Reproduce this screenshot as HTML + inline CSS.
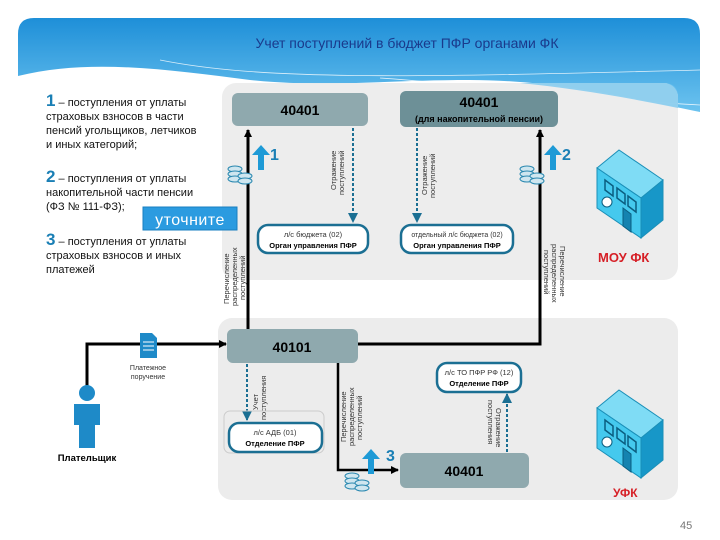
<!DOCTYPE html>
<html><head><meta charset="utf-8"><style>
html,body{margin:0;padding:0;background:#fff;}
svg{display:block;font-family:"Liberation Sans",sans-serif;}
</style></head><body>
<svg width="720" height="540" viewBox="0 0 720 540" xmlns="http://www.w3.org/2000/svg">
<defs>
<linearGradient id="hb" x1="0" y1="0" x2="0" y2="1"><stop offset="0" stop-color="#1e8fd8"/><stop offset="1" stop-color="#6cc3ef"/></linearGradient>
<marker id="ab" markerWidth="8" markerHeight="8" refX="7" refY="4" orient="auto" markerUnits="userSpaceOnUse"><path d="M0,0 L8,4 L0,8 Z" fill="#000"/></marker>
<marker id="at" markerWidth="10" markerHeight="10" refX="9" refY="5" orient="auto" markerUnits="userSpaceOnUse"><path d="M0,0 L10,5 L0,10 Z" fill="#1b6f93"/></marker>
<g id="coin"><ellipse cx="6" cy="3" rx="7" ry="3" fill="#cfe6ef" stroke="#2a88b0" stroke-width="1"/><ellipse cx="6" cy="8" rx="7" ry="3" fill="#cfe6ef" stroke="#2a88b0" stroke-width="1"/><ellipse cx="6" cy="13" rx="7" ry="3" fill="#cfe6ef" stroke="#2a88b0" stroke-width="1"/><ellipse cx="16" cy="10" rx="7" ry="3" fill="#cfe6ef" stroke="#2a88b0" stroke-width="1"/><ellipse cx="16" cy="15" rx="7" ry="3" fill="#cfe6ef" stroke="#2a88b0" stroke-width="1"/></g>
<g id="up"><path d="M0,10 L9,0 L18,10 L12,10 L12,25 L6,25 L6,10 Z" fill="#1e9ad6"/></g>
<g id="srv">
<path d="M0,18 L22,0 L66,30 L44,48 Z" fill="#7fdcf5" stroke="#1a8fb8"/>
<path d="M0,18 L44,48 L44,88 L0,58 Z" fill="#45c9ee" stroke="#1a8fb8"/>
<path d="M44,48 L66,30 L66,70 L44,88 Z" fill="#1797c8" stroke="#1a8fb8"/>
<path d="M8,30 L16,36 L16,46 L8,40Z M20,38 L28,44 L28,54 L20,48Z M31,46 L39,52 L39,62 L31,56Z" fill="none" stroke="#0b5e80" stroke-width="1.5"/>
<circle cx="10" cy="52" r="5" fill="#fff" stroke="#0b5e80"/>
<path d="M26,58 L34,64 L34,82 L26,76Z" fill="#1583b0" stroke="#0b5e80"/>
</g>
</defs>

<!-- header -->
<path d="M18,34 Q18,18 34,18 H684 Q700,18 700,34 V112 C640,100 560,80 470,80 C380,80 330,88 250,80 C170,70 90,58 18,76 Z" fill="url(#hb)"/>
<path d="M160,60 C260,80 400,78 700,70" fill="none" stroke="#fff" stroke-width="0.8" opacity="0.8"/>
<path d="M380,78 C480,85 600,100 700,105" fill="none" stroke="#fff" stroke-width="0.8" opacity="0.8"/>
<text x="407" y="48" text-anchor="middle" font-size="14" fill="#1a3a8c">Учет поступлений в бюджет ПФР органами ФК</text>

<!-- panels -->
<rect x="222" y="83" width="456" height="197" rx="14" fill="#ececec" opacity="0.95"/>
<path d="M520,83 H664 Q678,83 678,97 V108 C620,96 570,88 520,83Z" fill="#6cc3ef" opacity="0.7"/>
<rect x="218" y="318" width="460" height="182" rx="14" fill="#ececec"/>

<!-- left text -->
<g font-size="11" fill="#111">
<text x="46" y="106"><tspan font-size="17" fill="#1a7fb5" font-weight="bold">1</tspan> – поступления от уплаты</text>
<text x="46" y="120">страховых взносов в части</text>
<text x="46" y="134">пенсий угольщиков, летчиков</text>
<text x="46" y="148">и иных категорий;</text>
<text x="46" y="182"><tspan font-size="17" fill="#1a7fb5" font-weight="bold">2</tspan> – поступления от уплаты</text>
<text x="46" y="196">накопительной части пенсии</text>
<text x="46" y="210">(ФЗ № 111-ФЗ);</text>
<text x="46" y="245"><tspan font-size="17" fill="#1a7fb5" font-weight="bold">3</tspan> – поступления от уплаты</text>
<text x="46" y="259">страховых взносов и иных</text>
<text x="46" y="273">платежей</text>
</g>

<!-- upper boxes -->
<rect x="232" y="93" width="136" height="33" rx="6" fill="#8fa9ae"/>
<text x="300" y="115" text-anchor="middle" font-size="14" font-weight="bold">40401</text>
<rect x="400" y="91" width="158" height="36" rx="6" fill="#6d9097"/>
<text x="479" y="107" text-anchor="middle" font-size="14" font-weight="bold">40401</text>
<text x="479" y="122" text-anchor="middle" font-size="9" font-weight="bold">(для накопительной пенсии)</text>

<!-- dashed -->
<line x1="353" y1="128" x2="353" y2="222" stroke="#1b6f93" stroke-width="2" stroke-dasharray="3,2" marker-end="url(#at)"/>
<line x1="417" y1="128" x2="417" y2="222" stroke="#1b6f93" stroke-width="2" stroke-dasharray="3,2" marker-end="url(#at)"/>
<text transform="translate(336,190) rotate(-90)" font-size="7.5" fill="#333">Отражение</text>
<text transform="translate(344,195) rotate(-90)" font-size="7.5" fill="#333">поступлений</text>
<text transform="translate(427,195) rotate(-90)" font-size="7.5" fill="#333">Отражение</text>
<text transform="translate(435,198) rotate(-90)" font-size="7.5" fill="#333">поступлений</text>

<rect x="258" y="225" width="110" height="28" rx="10" fill="#fff" stroke="#1b6f93" stroke-width="2.5"/>
<text x="313" y="237" text-anchor="middle" font-size="7.5" fill="#333">л/с бюджета (02)</text>
<text x="313" y="248" text-anchor="middle" font-size="7.5" font-weight="bold">Орган управления ПФР</text>
<rect x="401" y="225" width="112" height="28" rx="10" fill="#fff" stroke="#1b6f93" stroke-width="2.5"/>
<text x="457" y="237" text-anchor="middle" font-size="7" fill="#333">отдельный л/с бюджета (02)</text>
<text x="457" y="248" text-anchor="middle" font-size="7.5" font-weight="bold">Орган управления ПФР</text>

<!-- main lines -->
<polyline points="87,392 87,344 226,344" fill="none" stroke="#000" stroke-width="3" marker-end="url(#ab)"/>
<line x1="248" y1="329" x2="248" y2="130" stroke="#000" stroke-width="3" marker-end="url(#ab)"/>
<polyline points="358,344 540,344 540,130" fill="none" stroke="#000" stroke-width="3" marker-end="url(#ab)"/>

<use href="#coin" x="229" y="166"/>
<use href="#up" x="252" y="145"/>
<text x="270" y="160" font-size="16" font-weight="bold" fill="#1a7fb5">1</text>
<use href="#coin" x="521" y="166"/>
<use href="#up" x="544" y="145"/>
<text x="562" y="160" font-size="16" font-weight="bold" fill="#1a7fb5">2</text>

<text transform="translate(229,304) rotate(-90)" font-size="7.5" fill="#333">Перечисление</text>
<text transform="translate(237,306) rotate(-90)" font-size="7.5" fill="#333">распределенных</text>
<text transform="translate(245,300) rotate(-90)" font-size="7.5" fill="#333">поступлений</text>
<text transform="translate(560,246) rotate(90)" font-size="7.5" fill="#333">Перечисление</text>
<text transform="translate(552,244) rotate(90)" font-size="7.5" fill="#333">распределенных</text>
<text transform="translate(544,250) rotate(90)" font-size="7.5" fill="#333">поступлений</text>

<use href="#srv" x="597" y="150"/>
<text x="598" y="262" font-size="13" font-weight="bold" fill="#d61f26">МОУ ФК</text>

<!-- уточните -->
<rect x="143" y="207" width="94" height="23" fill="#2b9be0" stroke="#1a7fc0"/>
<text x="190" y="225" text-anchor="middle" font-size="16" fill="#fff" letter-spacing="0.5">уточните</text>

<!-- lower -->
<rect x="227" y="329" width="131" height="34" rx="6" fill="#8fa9ae"/>
<text x="292" y="352" text-anchor="middle" font-size="14" font-weight="bold">40101</text>

<path d="M140,333 H152 L157,338 V358 H140 Z" fill="#1e8ac8"/>
<g stroke="#fff" stroke-width="1"><line x1="143" y1="342" x2="154" y2="342"/><line x1="143" y1="346" x2="154" y2="346"/><line x1="143" y1="350" x2="154" y2="350"/></g>
<text x="148" y="370" text-anchor="middle" font-size="7" fill="#333">Платежное</text>
<text x="148" y="379" text-anchor="middle" font-size="7" fill="#333">поручение</text>

<circle cx="87" cy="393" r="8" fill="#1e8ac8"/>
<path d="M74,404 H100 V425 H95 V448 H79 V425 H74 Z" fill="#1e8ac8"/>
<text x="87" y="461" text-anchor="middle" font-size="9.5" font-weight="bold">Плательщик</text>

<line x1="247" y1="364" x2="247" y2="420" stroke="#1b6f93" stroke-width="2" stroke-dasharray="3,2" marker-end="url(#at)"/>
<text transform="translate(258,410) rotate(-90)" font-size="7.5" fill="#333">Учет</text>
<text transform="translate(266,420) rotate(-90)" font-size="7.5" fill="#333">поступления</text>
<rect x="224" y="411" width="100" height="42" rx="6" fill="none" stroke="#ccc"/>
<rect x="229" y="423" width="93" height="29" rx="10" fill="#fff" stroke="#1b6f93" stroke-width="2.5"/>
<text x="275" y="435" text-anchor="middle" font-size="7.5" fill="#333">л/с АДБ (01)</text>
<text x="275" y="446" text-anchor="middle" font-size="7.5" font-weight="bold">Отделение ПФР</text>

<polyline points="338,363 338,470 398,470" fill="none" stroke="#000" stroke-width="2.5" marker-end="url(#ab)"/>
<text transform="translate(346,442) rotate(-90)" font-size="7.5" fill="#333">Перечисление</text>
<text transform="translate(354,446) rotate(-90)" font-size="7.5" fill="#333">распределенных</text>
<text transform="translate(362,440) rotate(-90)" font-size="7.5" fill="#333">поступлений</text>
<use href="#coin" x="346" y="473"/>
<use href="#up" x="362" y="449"/>
<text x="386" y="461" font-size="16" font-weight="bold" fill="#1a7fb5">3</text>

<rect x="400" y="453" width="129" height="35" rx="6" fill="#8fa9ae"/>
<text x="464" y="476" text-anchor="middle" font-size="14" font-weight="bold">40401</text>

<line x1="507" y1="452" x2="507" y2="394" stroke="#1b6f93" stroke-width="2" stroke-dasharray="3,2" marker-end="url(#at)"/>
<text transform="translate(488,400) rotate(90)" font-size="7.5" fill="#333">поступления</text>
<text transform="translate(496,408) rotate(90)" font-size="7.5" fill="#333">Отражение</text>
<rect x="437" y="363" width="84" height="29" rx="10" fill="#fff" stroke="#1b6f93" stroke-width="2.5"/>
<text x="479" y="375" text-anchor="middle" font-size="7.5" fill="#333">л/с ТО ПФР РФ (12)</text>
<text x="479" y="386" text-anchor="middle" font-size="7.5" font-weight="bold">Отделение ПФР</text>

<use href="#srv" x="597" y="390"/>
<text x="613" y="497" font-size="12" font-weight="bold" fill="#d61f26">УФК</text>

<text x="680" y="529" font-size="11" fill="#777">45</text>
</svg>
</body></html>
